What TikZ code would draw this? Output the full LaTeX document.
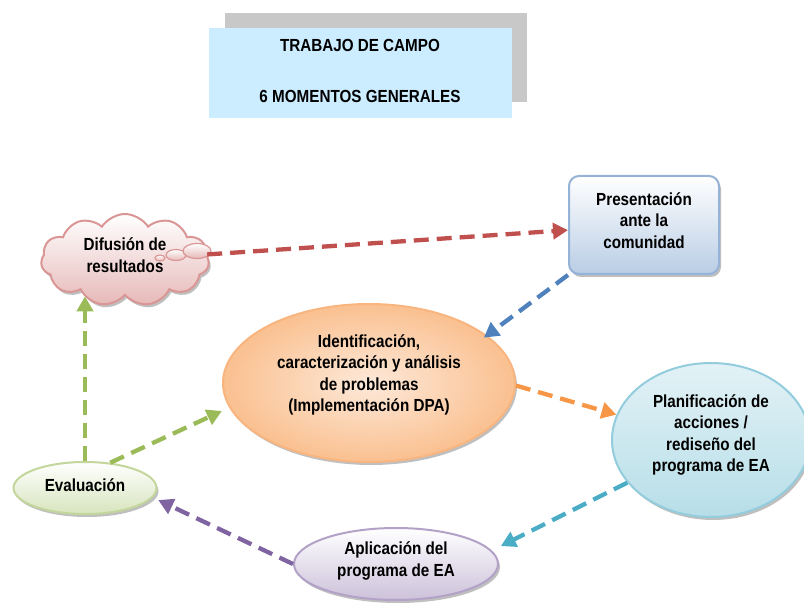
\documentclass[tikz,border=0pt]{standalone}
\usepackage{fontspec}
\setmainfont{Liberation Sans}[FakeStretch=0.87]
\usetikzlibrary{shapes.geometric,shapes.symbols,arrows.meta,shadows}
\definecolor{titleblue}{HTML}{CCECFF}
\definecolor{titlegray}{HTML}{C8C8C8}
\definecolor{redline}{HTML}{C0504D}
\definecolor{redfill}{HTML}{E6B9B8}
\definecolor{redborder}{HTML}{D99694}
\definecolor{blueline}{HTML}{4F81BD}
\definecolor{bluefill}{HTML}{B9CDE5}
\definecolor{blueborder}{HTML}{95B3D7}
\definecolor{orangeline}{HTML}{F79646}
\definecolor{orangefill}{HTML}{FAC090}
\definecolor{orangelight}{HTML}{FDE9D9}
\definecolor{orangeborder}{HTML}{F9B57F}
\definecolor{tealline}{HTML}{4BACC6}
\definecolor{tealfill}{HTML}{B7DEE8}
\definecolor{tealborder}{HTML}{93CDDD}
\definecolor{greenline}{HTML}{9BBB59}
\definecolor{greenfill}{HTML}{D7E4BD}
\definecolor{greenborder}{HTML}{C3D69B}
\definecolor{purpleline}{HTML}{8064A2}
\definecolor{purplefill}{HTML}{CCC1DA}
\definecolor{purpleborder}{HTML}{B3A2C7}
\tikzset{
  lbl/.style={inner sep=0pt, align=center},
  shp/.style={inner sep=0pt, align=center, line width=2pt,
    drop shadow={shadow xshift=2pt, shadow yshift=-3pt, fill=black, opacity=0.25}},
  conn/.style={line width=4.3pt, dash pattern=on 15pt off 8pt,
    -{Triangle[length=15pt,width=16pt]}},
}
\begin{document}
\begin{tikzpicture}[x=1pt,y=-1pt, font=\bfseries\fontsize{17.5}{21.5}\selectfont]
\useasboundingbox (0,0) rectangle (804,604);
% title
\node[fill=titlegray, minimum width=302, minimum height=89, inner sep=0pt, anchor=north west] (tshadow) at (225,13) {};
\node[fill=titleblue, minimum width=303, minimum height=90, inner sep=0pt, anchor=north west] (title) at (209,28) {};
\node[lbl] (t1) at (360,45) {TRABAJO DE CAMPO};
\node[lbl] (t2) at (360,96) {6 MOMENTOS GENERALES};
% nodes
\node[shp, cloud, cloud puffs=11, cloud puff arc=115, cloud ignores aspect,
  minimum width=168, minimum height=92, draw=redborder, top color=white, bottom color=redfill,
  text depth=10pt] (dif) at (125,260) {Difusión de\\resultados};
\node[ellipse, draw=redborder, line width=1.2pt, top color=white, bottom color=redfill, minimum width=10, minimum height=6, inner sep=0pt] (b1) at (160,258) {};
\node[ellipse, draw=redborder, line width=1.2pt, top color=white, bottom color=redfill, minimum width=20, minimum height=11, inner sep=0pt] (b2) at (176,255) {};
\node[ellipse, draw=redborder, line width=1.2pt, top color=white, bottom color=redfill, minimum width=28, minimum height=15, inner sep=0pt] (b3) at (197,251) {};
\node[shp, rectangle, rounded corners=10pt, draw=blueborder, top color=white, bottom color=bluefill,
  minimum width=150, minimum height=98, text depth=9pt] (pres) at (644,225) {Presentación\\ante la\\comunidad};
\node[shp, ellipse, draw=orangeborder, inner color=orangelight, outer color=orangefill,
  minimum width=292, minimum height=158, text depth=20pt] (ident) at (369,383)
  {Identificación,\\caracterización y análisis\\de problemas\\(Implementación DPA)};
\node[shp, ellipse, draw=tealborder, top color=tealfill!40, bottom color=tealfill,
  minimum width=198, minimum height=154, text depth=14pt] (plan) at (711,440)
  {Planificación de\\acciones /\\rediseño del\\programa de EA};
\node[shp, ellipse, draw=greenborder, top color=white, bottom color=greenfill,
  minimum width=143, minimum height=52, text depth=6pt] (eval) at (85,488) {Evaluación};
\node[shp, ellipse, draw=purpleborder, top color=white, bottom color=purplefill,
  minimum width=204, minimum height=72, text depth=10pt] (apl) at (396,564) {Aplicación del\\programa de EA};
% connectors
\draw[conn, redline] (dif) -- (pres);
\draw[conn, blueline, shorten >=-4pt] (pres.south west) -- (ident.22);
\draw[conn, orangeline] (ident.-1) -- (plan.165);
\draw[conn, tealline, shorten >=10pt] (plan.207) -- (apl.8);
\draw[conn, purpleline, shorten >=6pt] (apl.west) -- (eval.-8);
\draw[conn, greenline] (eval.north) -- (eval.north |- dif.south);
\draw[conn, greenline, shorten >=8pt] (eval.45) -- (ident.190);
\end{tikzpicture}
\end{document}
